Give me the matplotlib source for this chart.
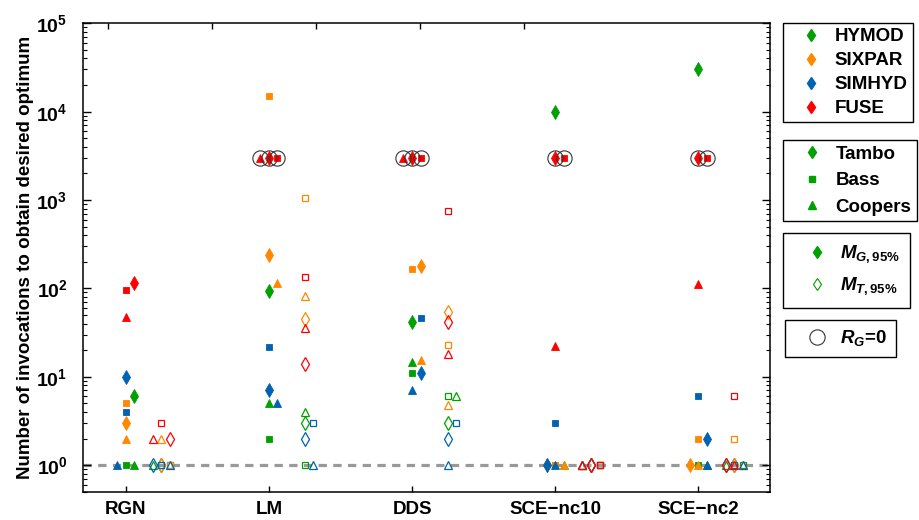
import numpy as np
import matplotlib
matplotlib.use("Agg")
import matplotlib.pyplot as plt
from matplotlib.lines import Line2D
from matplotlib.ticker import FuncFormatter, LogLocator, NullFormatter

plt.rcParams['font.family'] = ['Liberation Sans', 'DejaVu Sans']
plt.rcParams['font.weight'] = 'bold'
plt.rcParams['mathtext.fontset'] = 'custom'
plt.rcParams['mathtext.rm'] = 'Liberation Sans:bold'
plt.rcParams['mathtext.it'] = 'Liberation Sans:bold:italic'
plt.rcParams['mathtext.bf'] = 'Liberation Sans:bold'

# ---------------- data ----------------
algorithms = ['RGN', 'LM', 'DDS', 'SCE\u2212nc10', 'SCE\u2212nc2']
models = ['HYMOD', 'SIXPAR', 'SIMHYD', 'FUSE']
catchments = ['Tambo', 'Bass', 'Coopers']
nan = np.nan
fail_level = 3000  # level at which runs with R_G = 0 are shown

# M_G,95% : rows = algorithms, cols = catchments (nan -> R_G = 0)
HYMOD_G = [[6, 1, 1], [93, 2, 5], [41.7, 11, 14.6], [10000, 1, 1], [30000, 1, 1]]
SIXPAR_G = [[3, 5, 2], [240, 15000, 114], [178, 166, 15.5], [1, 1, 1], [1, 2, 1]]
SIMHYD_G = [[10, 4, 1], [7, 21.6, 5], [11, 46.6, 7.1], [1, 3, 1], [2, 6, 1]]
FUSE_G = [[115, 95, 48], [nan, nan, nan], [nan, nan, nan], [nan, nan, 22], [nan, nan, 112]]

# M_T,95%
HYMOD_T = [[1, 1, 1], [3, 1, 4], [3, 6, 6], [1, 1, 1], [1, 1, 1]]
SIXPAR_T = [[1, 1, 2], [45, 1060, 82.6], [54.5, 23, 4.8], [1, 1, 1], [1, 2, 1]]
SIMHYD_T = [[1, 1, 1], [2, 3, 1], [2, 3, 1], [1, 1, 1], [1, 1, 1]]
FUSE_T = [[2, 3, 2], [13.8, 134, 36], [41.4, 745, 18.2], [1, 1, 1], [1, 6, 1]]

G_values = [HYMOD_G, SIXPAR_G, SIMHYD_G, FUSE_G]
T_values = [HYMOD_T, SIXPAR_T, SIMHYD_T, FUSE_T]

# ---------------- style ----------------
model_colors = ['#00a000', '#ff8800', '#0062b0', '#ff0000']
catch_markers = ['d', 's', '^']
marker_sizes = [7.5, 5.0, 6.3]
hollow_offset = 0.25
jitter = 0.06
cluster_gap = 0.09  # decades

fig = plt.figure(figsize=(9.2, 5.2), dpi=100)
ax = fig.add_axes([0.0899, 0.0544, 0.7471, 0.9008])

ax.axhline(1, color='#999999', lw=2.3, dashes=(2.6, 2.0), zorder=1)


def place(vals):
    """vals: list of (value, model, catchment). returns slot per entry"""
    order = sorted(range(len(vals)), key=lambda i: (vals[i][0], vals[i][1], vals[i][2]))
    slots = [0] * len(vals)
    cycle = [0, 1, -1]
    k = 0
    prev = None
    for i in order:
        lv = np.log10(vals[i][0])
        if prev is not None and lv - prev < cluster_gap:
            k += 1
        else:
            k = 0
        prev = lv
        slots[i] = cycle[k % 3]
    return slots


for a in range(len(algorithms)):
    for kind, table in (('G', G_values), ('T', T_values)):
        entries = []
        for m in range(len(models)):
            for c in range(len(catchments)):
                v = table[m][a][c]
                failed = np.isnan(v)
                entries.append((fail_level if failed else v, m, c, failed))
        slots = place([(e[0], e[1], e[2]) for e in entries])
        base = a + 1 + (hollow_offset if kind == 'T' else 0.0)
        for (v, m, c, failed), s in zip(entries, slots):
            x = base + s * jitter
            col = model_colors[m]
            if kind == 'G':
                ax.plot([x], [v], linestyle='none', marker=catch_markers[c],
                        markersize=marker_sizes[c], color=col, mec=col, mew=0.6,
                        zorder=3)
                if failed:
                    ax.plot([x], [v], linestyle='none', marker='o', markersize=11,
                            mfc='none', mec='#333333', mew=0.8, zorder=4)
            else:
                ax.plot([x], [v], linestyle='none', marker=catch_markers[c],
                        markersize=marker_sizes[c], mfc='none', mec=col, mew=0.9,
                        zorder=3)

ax.set_yscale('log')
ax.set_ylim(0.5, 1e5)
ax.set_xlim(0.7, 5.5)
ax.set_xticks(range(1, len(algorithms) + 1))
ax.set_xticklabels(algorithms, fontsize=13.5, fontweight='bold')
ax.yaxis.set_major_locator(LogLocator(base=10, numticks=10))
ax.yaxis.set_minor_locator(LogLocator(base=10, subs=np.arange(2, 10), numticks=20))
ax.yaxis.set_major_formatter(FuncFormatter(lambda v, p: '$10^{%d}$' % int(round(np.log10(v)))))
ax.yaxis.set_minor_formatter(NullFormatter())
ax.tick_params(axis='y', which='major', direction='in', length=6, width=1, right=True,
               labelsize=14, pad=11)
ax.tick_params(axis='y', which='minor', direction='in', length=3, width=0.8, right=True)
ax.tick_params(axis='x', which='major', direction='in', length=4.5, width=1, pad=6.5)
ax.set_ylabel('Number of invocations to obtain desired optimum', fontsize=13.5,
              fontweight='bold')
ax.yaxis.set_label_coords(-0.071, 0.5)
for sp in ax.spines.values():
    sp.set_linewidth(1.1)

ax2 = ax.twiny()
ax2.set_xlim(0, 1)
ax2.set_xticks([0.0364, 0.1877, 0.3394, 0.4907, 0.6421])
ax2.tick_params(axis='x', direction='in', length=4.5, width=1, labeltop=False)
for sp in ax2.spines.values():
    sp.set_visible(False)

# ---------------- legends ----------------
leg_kw = dict(frameon=True, fancybox=False, edgecolor='black', framealpha=1,
              prop={'weight': 'bold', 'size': 13.5}, handlelength=2.5,
              handletextpad=0.0, borderaxespad=0, borderpad=0.27, labelspacing=0.37)

h1 = [Line2D([], [], linestyle='none', marker='d', markersize=6.3, color=c, mec=c)
      for c in model_colors]
l1 = fig.legend(h1, models, loc='upper left', bbox_to_anchor=(783 / 920, 1 - 23 / 520), **leg_kw)
l1.get_frame().set_linewidth(1.0)

h2 = [Line2D([], [], linestyle='none', marker=mk, markersize=ms * 0.85, color=model_colors[0],
             mec=model_colors[0]) for mk, ms in zip(catch_markers, marker_sizes)]
l2 = fig.legend(h2, catchments, loc='upper left', bbox_to_anchor=(783 / 920, 1 - 140 / 520),
                **{**leg_kw, 'labelspacing': 0.5, 'borderpad': 0.3})
l2.get_frame().set_linewidth(1.0)

h3 = [Line2D([], [], linestyle='none', marker='d', markersize=6.3, color=model_colors[0],
             mec=model_colors[0]),
      Line2D([], [], linestyle='none', marker='d', markersize=6.3, mfc='none',
             mec=model_colors[0], mew=0.8)]
l3 = fig.legend(h3, ['$M_{G,95\\%}$', '$M_{T,95\\%}$'], loc='upper left',
                bbox_to_anchor=(783 / 920, 1 - 233 / 520),
                **{**leg_kw, 'labelspacing': 0.55, 'borderpad': 0.55})
l3.get_frame().set_linewidth(1.0)

h4 = [Line2D([], [], linestyle='none', marker='o', markersize=11, mfc='none',
             mec='#333333', mew=0.8)]
l4 = fig.legend(h4, ['$R_G$=0'], loc='upper left', bbox_to_anchor=(785 / 920, 1 - 320 / 520),
                **{**leg_kw, 'borderpad': 0.45})
l4.get_frame().set_linewidth(1.0)

fig.savefig('out.png', dpi=100)
